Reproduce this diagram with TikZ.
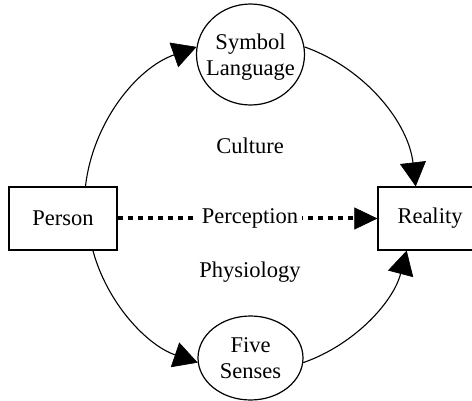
\documentclass[tikz,border=0pt]{standalone}
\usepackage{fontspec}
\setmainfont{Liberation Serif}
\usetikzlibrary{arrows.meta,shapes.geometric}
\begin{document}
\begin{tikzpicture}[x=1pt,y=1pt,
  every node/.style={font=\fontsize{22.5}{25.5}\selectfont, inner sep=0pt},
  box/.style={draw, line width=1.2pt, minimum width=108pt, minimum height=63pt},
  oval/.style={draw, ellipse, line width=1.2pt, align=center, text depth=0pt},
  conn/.style={line width=1.1pt, -{Triangle[length=24pt,width=26pt,line width=0.6pt]}},
  dots/.style={line width=4pt, dash pattern=on 5pt off 5pt, -{Triangle[length=23pt,width=22pt,line width=0.6pt]}},
  lbl/.style={anchor=base}]
\useasboundingbox (0,0) rectangle (472,-401);
\clip (0,0) rectangle (472,-401);
\node[box] (person) at (63,-218.5) {Person};
\node[box, minimum width=104pt] (reality) at (430,-218.5) {Reality};
\node[oval, inner xsep=-8pt, minimum width=108pt, minimum height=101pt] (symbol) at (250.5,-54.5) {Symbol\\Language};
\node[oval, minimum width=105pt, minimum height=84pt] (senses) at (250.5,-358) {Five\\Senses};
\node[lbl] (culture) at (250,-154) {Culture};
\node[lbl] (physio) at (250,-278) {Physiology};
\draw[dots] (person.east) -- node[pos=0.51, fill=white, inner xsep=4pt] (perc) {Perception} (reality.west);
\draw[conn] (person.55) to[bend left=32, looseness=0.92] (symbol.172);
\draw[conn] (symbol.8) to[bend left=32, looseness=0.92] (reality.114);
\draw[conn] (person.-47) to[bend right=28, looseness=0.9] (senses.185);
\draw[conn] (senses.-5) to[bend right=28, looseness=0.9] (reality.-126);
\end{tikzpicture}
\end{document}
